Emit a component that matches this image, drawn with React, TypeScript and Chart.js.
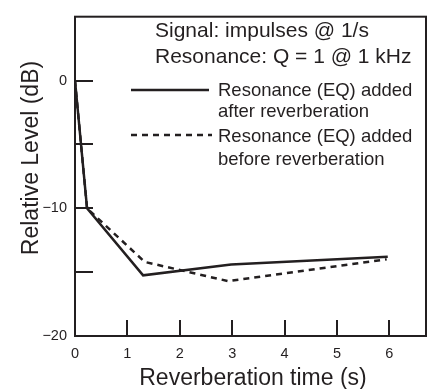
import React, { useEffect, useRef } from 'react';
import { Chart, registerables } from 'chart.js';

Chart.register(...registerables);

// ---- data ----
const afterX = [0, 0.23, 1.3, 2.98, 5.97];
const afterY = [0, -10, -15.25, -14.4, -13.8];
const beforeX = [0, 0.23, 1.33, 2.92, 5.95];
const beforeY = [0, -10, -14.2, -15.7, -14.0];

const xTickValues = [0, 1, 2, 3, 4, 5, 6];
const xTickMarks = [1, 2, 3, 4, 5, 6];
const yTickValues = [-20, -10, 0];
const yTickMarks = [-15, -10, -5, 0];

const infoLines = ['Signal: impulses @ 1/s', 'Resonance: Q = 1 @ 1 kHz'];
const afterLabel = ['Resonance (EQ) added', 'after reverberation'];
const beforeLabel = ['Resonance (EQ) added', 'before reverberation'];
const xTitle = 'Reverberation time (s)';
const yTitle = 'Relative Level (dB)';

const INK = '#231f20';
const FONT = '"Liberation Sans", Arial, Helvetica, sans-serif';

const toPoints = (xs: number[], ys: number[]) => xs.map((x, i) => ({ x, y: ys[i] }));

const decorPlugin = {
  id: 'decor',
  afterDraw(chart: any) {
    const { ctx, chartArea, scales } = chart;
    const { left, right, top, bottom } = chartArea;
    const xs = scales.x;
    const ys = scales.y;
    ctx.save();
    ctx.strokeStyle = INK;
    ctx.fillStyle = INK;
    ctx.lineWidth = 2;
    ctx.setLineDash([]);
    ctx.strokeRect(left, top, right - left, bottom - top);
    const line = (x1: number, y1: number, x2: number, y2: number) => {
      ctx.beginPath();
      ctx.moveTo(x1, y1);
      ctx.lineTo(x2, y2);
      ctx.stroke();
    };
    yTickMarks.forEach((v) => {
      const py = Math.round(ys.getPixelForValue(v));
      line(left, py, left + 18, py);
    });
    xTickMarks.forEach((v) => {
      const px = Math.round(xs.getPixelForValue(v));
      line(px, bottom, px, bottom - 16);
    });

    // axis titles
    ctx.font = `23px ${FONT}`;
    ctx.textAlign = 'center';
    ctx.textBaseline = 'alphabetic';
    ctx.fillText(xTitle, 253, 385);
    ctx.save();
    ctx.translate(37.5, 158);
    ctx.rotate(-Math.PI / 2);
    ctx.fillText(yTitle, 0, 0);
    ctx.restore();

    // info text
    ctx.textAlign = 'left';
    ctx.font = `21px ${FONT}`;
    ctx.fillText(infoLines[0], 155, 37);
    ctx.fillText(infoLines[1], 155, 63);

    // legend
    ctx.lineWidth = 2.5;
    line(131, 90, 209, 90);
    ctx.setLineDash([6, 5]);
    line(131, 135, 212, 135);
    ctx.setLineDash([]);
    ctx.font = `18.5px ${FONT}`;
    ctx.fillText(afterLabel[0], 218, 96);
    ctx.fillText(afterLabel[1], 218, 117);
    ctx.fillText(beforeLabel[0], 218, 142);
    ctx.fillText(beforeLabel[1], 218, 165);
    ctx.restore();
  },
};

export default function App() {
  const ref = useRef<HTMLCanvasElement>(null);
  useEffect(() => {
    document.body.style.margin = '0';
    const canvas = ref.current!;
    const chart = new Chart(canvas, {
      type: 'scatter',
      data: {
        datasets: [
          {
            label: 'after',
            data: toPoints(afterX, afterY),
            showLine: true,
            borderColor: INK,
            borderWidth: 2.5,
            pointRadius: 0,
            tension: 0,
          },
          {
            label: 'before',
            data: toPoints(beforeX, beforeY),
            showLine: true,
            borderColor: INK,
            borderWidth: 2.5,
            borderDash: [6, 5],
            pointRadius: 0,
            tension: 0,
          },
        ],
      },
      options: {
        responsive: false,
        animation: false,
        devicePixelRatio: 1,
        layout: { padding: { top: 6, right: 4, left: 0, bottom: 0 } },
        plugins: { legend: { display: false }, tooltip: { enabled: false } },
        scales: {
          x: {
            type: 'linear',
            min: 0,
            max: 6.7,
            grid: { display: false, drawTicks: false },
            border: { display: false },
            afterBuildTicks: (s: any) => {
              s.ticks = xTickValues.map((v) => ({ value: v }));
            },
            afterFit: (s: any) => {
              s.height = 53;
            },
            ticks: {
              color: INK,
              padding: 9,
              maxRotation: 0,
              autoSkip: false,
              font: { family: FONT, size: 14.5 },
              callback: (v: any) => String(v),
            },
          },
          y: {
            type: 'linear',
            min: -20,
            max: 5,
            grid: { display: false, drawTicks: false },
            border: { display: false },
            afterBuildTicks: (s: any) => {
              s.ticks = yTickValues.map((v) => ({ value: v }));
            },
            afterFit: (s: any) => {
              s.width = 75;
            },
            ticks: {
              color: INK,
              padding: 8,
              autoSkip: false,
              font: { family: FONT, size: 14.5 },
              callback: (v: any) => (Number(v) < 0 ? '\u2212' + Math.abs(Number(v)) : String(v)),
            },
          },
        },
      },
      plugins: [decorPlugin],
    });
    return () => chart.destroy();
  }, []);
  return (
    <div style={{ width: 430, height: 389, background: '#fff' }}>
      <canvas ref={ref} width={430} height={389} style={{ display: 'block' }} />
    </div>
  );
}
